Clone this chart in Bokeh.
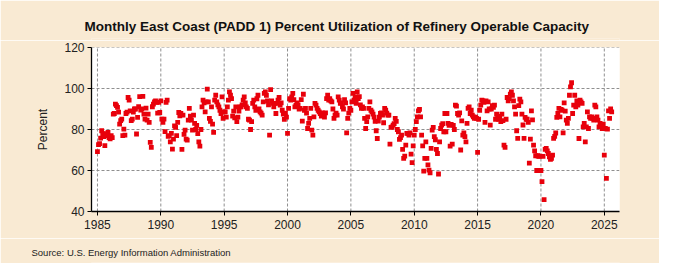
import numpy as np
from bokeh.plotting import figure
from bokeh.layouts import column
from bokeh.models import FixedTicker, Range1d, ColumnDataSource
from bokeh.embed import file_html
from bokeh.resources import INLINE

# Monthly percent utilization, Jan 1985 onward
u1985_1989 = [
    69.2, 72.6, 73.1, 75.8, 79.4, 77.8, 76.5, 72.1, 78.0, 77.0, 78.6, 76.0,
    75.5, 77.0, 76.0, 87.5, 87.8, 92.4, 91.6, 90.8, 88.5, 82.6, 84.3, 85.1,
    77.0, 80.2, 77.3, 87.8, 88.5, 95.6, 94.3, 89.1, 84.3, 85.1, 88.5, 90.0,
    90.0, 77.8, 85.9, 91.1, 96.0, 89.5, 90.0, 96.2, 87.5, 85.1, 90.4, 84.6,
    87.5, 83.5, 73.7, 71.3, 91.1, 92.4, 93.5, 94.0, 93.2, 88.0, 93.2, 88.3]
u1990_1994 = [
    94.0, 85.1, 83.5, 85.1, 79.0, 93.2, 94.3, 76.6, 77.0, 74.0, 78.1, 70.4,
    75.3, 81.8, 81.0, 77.0, 83.5, 88.3, 86.7, 87.8, 70.3, 87.0, 77.6, 79.7,
    75.3, 74.8, 84.6, 90.3, 86.5, 84.6, 79.7, 87.0, 83.0, 80.0, 82.0, 78.0,
    74.0, 71.9, 80.0, 91.0, 94.3, 93.0, 88.6, 93.5, 99.7, 93.5, 85.4, 84.0,
    91.0, 82.6, 78.6, 94.3, 96.7, 93.5, 92.0, 91.0, 89.4, 87.8, 95.9, 85.4]
u1995_1999 = [
    88.6, 88.6, 86.0, 91.0, 94.3, 98.4, 96.7, 95.1, 86.5, 89.0, 85.7, 91.0,
    83.8, 86.0, 89.0, 91.0, 91.0, 92.0, 94.3, 95.9, 93.0, 91.0, 90.3, 85.0,
    84.6, 80.0, 83.8, 92.7, 94.3, 91.0, 89.4, 95.0, 96.7, 90.0, 88.6, 88.0,
    87.0, 93.5, 97.6, 98.4, 96.7, 94.0, 92.0, 77.3, 99.5, 94.0, 92.7, 91.0,
    92.7, 87.8, 92.7, 94.3, 95.6, 91.9, 93.0, 89.4, 87.5, 84.9, 88.0, 86.0]
u2000_2004 = [
    78.1, 90.3, 95.1, 94.3, 95.9, 97.6, 94.6, 91.0, 91.9, 93.0, 92.0, 90.0,
    90.3, 94.6, 84.1, 97.2, 89.4, 90.3, 88.0, 80.5, 83.0, 85.4, 90.3, 79.7,
    77.3, 86.2, 92.7, 91.9, 90.3, 89.4, 88.6, 87.8, 86.5, 88.1, 87.0, 86.0,
    88.1, 95.1, 96.7, 94.3, 95.1, 94.0, 93.5, 90.0, 85.4, 87.0, 88.0, 87.0,
    95.9, 94.3, 92.7, 93.0, 91.0, 90.0, 94.6, 93.0, 78.4, 85.4, 88.0, 90.3]
u2005_2009 = [
    89.4, 93.5, 97.6, 94.3, 95.9, 92.7, 98.4, 95.1, 96.0, 92.0, 90.3, 91.0,
    90.3, 85.4, 80.5, 83.8, 86.2, 90.3, 93.5, 89.4, 88.6, 87.5, 86.0, 84.0,
    79.4, 75.6, 84.1, 86.0, 87.8, 88.1, 87.0, 83.3, 90.3, 89.4, 88.0, 87.0,
    87.0, 72.9, 81.0, 81.3, 82.1, 82.9, 85.4, 84.0, 80.0, 78.9, 75.2, 76.0,
    77.3, 70.3, 65.9, 67.0, 72.4, 78.1, 78.0, 77.3, 78.4, 68.0, 63.8, 72.0]
u2010_2014 = [
    77.3, 80.0, 83.8, 86.2, 89.1, 89.8, 86.2, 77.3, 72.0, 59.7, 65.9, 74.0,
    65.9, 62.7, 60.2, 58.9, 70.8, 79.7, 81.0, 76.5, 75.0, 70.3, 68.3, 58.3,
    74.0, 80.5, 82.1, 82.9, 78.9, 87.8, 78.9, 87.8, 83.0, 82.0, 71.9, 82.5,
    72.9, 82.0, 80.0, 91.9, 91.4, 87.8, 87.0, 88.1, 70.0, 84.2, 77.3, 78.4,
    76.5, 74.0, 83.0, 90.3, 91.0, 87.8, 89.4, 87.0, 86.2, 85.4, 86.0, 85.4]
u2015_2019 = [
    68.8, 85.0, 89.4, 91.9, 94.3, 94.0, 93.2, 83.5, 94.0, 89.1, 93.5, 90.0,
    82.1, 90.0, 91.6, 90.8, 91.9, 85.0, 87.5, 86.4, 85.0, 85.4, 83.8, 87.5,
    84.3, 72.4, 71.3, 85.0, 95.6, 94.0, 95.1, 97.3, 98.4, 96.7, 94.0, 91.0,
    87.5, 79.4, 75.7, 91.6, 94.8, 93.5, 87.5, 82.2, 75.7, 85.9, 85.0, 85.0,
    83.5, 63.6, 75.3, 89.1, 84.7, 72.4, 69.6, 67.2, 60.0, 67.2, 66.9, 67.0]
u2020_2025 = [
    60.0, 54.6, 66.9, 45.8, 70.3, 70.8, 69.6, 68.3, 66.7, 65.4, 65.9, 67.5,
    75.7, 76.6, 78.3, 85.9, 87.8, 90.3, 86.2, 89.8, 89.4, 78.4, 93.0, 89.0,
    84.6, 83.0, 85.4, 96.7, 100.8, 102.8, 87.8, 91.9, 96.7, 91.0, 94.0, 91.9,
    75.6, 94.3, 93.5, 92.7, 81.3, 83.0, 74.0, 81.3, 88.6, 80.5, 86.2, 85.4,
    86.2, 85.4, 84.6, 91.9, 91.0, 86.2, 84.6, 81.3, 83.0, 82.1, 80.5, 82.6,
    67.5, 80.5, 56.2, 80.2, 89.1, 85.4, 90.0, 88.6]

start_year = 1985
year_ticks = [1985, 1990, 1995, 2000, 2005, 2010, 2015, 2020, 2025]
pct_ticks = [40, 60, 80, 100, 120]
x_lo, x_hi = 1984.53, 2026.2
y_lo, y_hi = 40, 120

title_text = "Monthly East Coast (PADD 1) Percent Utilization of Refinery Operable Capacity"
source_text = "Source: U.S. Energy Information Administration"

values = (u1985_1989 + u1990_1994 + u1995_1999 + u2000_2004 +
          u2005_2009 + u2010_2014 + u2015_2019 + u2020_2025)
xs = [start_year + i / 12.0 for i in range(len(values))]
src = ColumnDataSource(data=dict(x=xs, y=values))

BG = "#f9ead3"
W = 659
LEFT, RIGHT, TOP, BOTTOM = 91, 40, 7, 27
FRAME_W = W - LEFT - RIGHT
FRAME_H = 164


def text_strip(height, top):
    f = figure(width=W, height=height, output_backend="svg", toolbar_location=None,
               x_axis_location=None, y_axis_location=None,
               x_range=Range1d(0, 1), y_range=Range1d(0, 1),
               min_border_left=0, min_border_right=0, min_border_bottom=0,
               min_border_top=top)
    f.border_fill_color = BG
    f.background_fill_color = BG
    f.outline_line_color = None
    f.grid.visible = False
    return f


# title strip
t = text_strip(40, 38)
t.title.text = title_text
t.title.align = "left"
t.title.offset = -7
t.title.text_font = "Liberation Sans"
t.title.text_font_style = "bold"
t.title.text_font_size = "13.5px"
t.title.text_color = "#111111"

# main chart
p = figure(width=W, height=TOP + FRAME_H + BOTTOM, output_backend="svg",
           toolbar_location=None,
           x_range=Range1d(x_lo, x_hi), y_range=Range1d(y_lo, y_hi),
           min_border_left=LEFT, min_border_right=RIGHT, min_border_top=TOP,
           min_border_bottom=BOTTOM)
p.border_fill_color = BG
p.background_fill_color = "white"
p.outline_line_color = None
p.grid.visible = False

xt = FixedTicker(ticks=year_ticks)
yt = FixedTicker(ticks=pct_ticks)
p.xaxis.ticker = xt
p.yaxis.ticker = yt

# dashed grid at the tick positions, built from short 3px dashes with 2px gaps
GRID_C = "#8f8f8f"
px_x = (x_hi - x_lo) / FRAME_W
px_y = (y_hi - y_lo) / FRAME_H
dash_xs = np.arange(x_lo + 1.5 * px_x, x_hi, 5 * px_x)
dash_ys = np.arange(y_lo + 1.5 * px_y, y_hi, 5 * px_y)
hx = np.tile(dash_xs, len(pct_ticks))
hy = np.repeat(pct_ticks, len(dash_xs))
vx = np.repeat(year_ticks, len(dash_ys))
vy = np.tile(dash_ys, len(year_ticks))
p.rect(x=hx, y=hy, width=3, height=1, width_units="screen", height_units="screen",
       fill_color=GRID_C, line_color=None)
p.rect(x=vx, y=vy, width=1, height=3, width_units="screen", height_units="screen",
       fill_color=GRID_C, line_color=None)

p.scatter("x", "y", source=src, marker="square", size=4.8,
          fill_color="#e8000b", line_color=None)

for ax in (p.xaxis[0], p.yaxis[0]):
    ax.axis_line_color = "black"
    ax.axis_line_width = 1.3
    ax.major_tick_line_color = "black"
    ax.major_tick_in = 0
    ax.major_tick_out = 4
    ax.minor_tick_line_color = None
    ax.major_label_text_font = "Liberation Sans"
    ax.major_label_text_font_size = "12px"
    ax.major_label_text_color = "#222222"

p.xaxis.major_label_standoff = 4
p.yaxis.major_label_standoff = 3

p.yaxis.axis_label = "Percent"
p.yaxis.axis_label_text_font = "Liberation Sans"
p.yaxis.axis_label_text_font_size = "12px"
p.yaxis.axis_label_text_font_style = "normal"
p.yaxis.axis_label_text_color = "#222222"
p.yaxis.axis_label_standoff = 11

# source strip
s = text_strip(25, 24)
s.title.text = source_text
s.title.align = "left"
s.title.offset = -60
s.title.text_font = "Liberation Sans"
s.title.text_font_style = "normal"
s.title.text_font_size = "9.5px"
s.title.text_color = "#222222"

layout = column(t, p, s, spacing=0)
open("out.html", "w").write(file_html(layout, INLINE))
